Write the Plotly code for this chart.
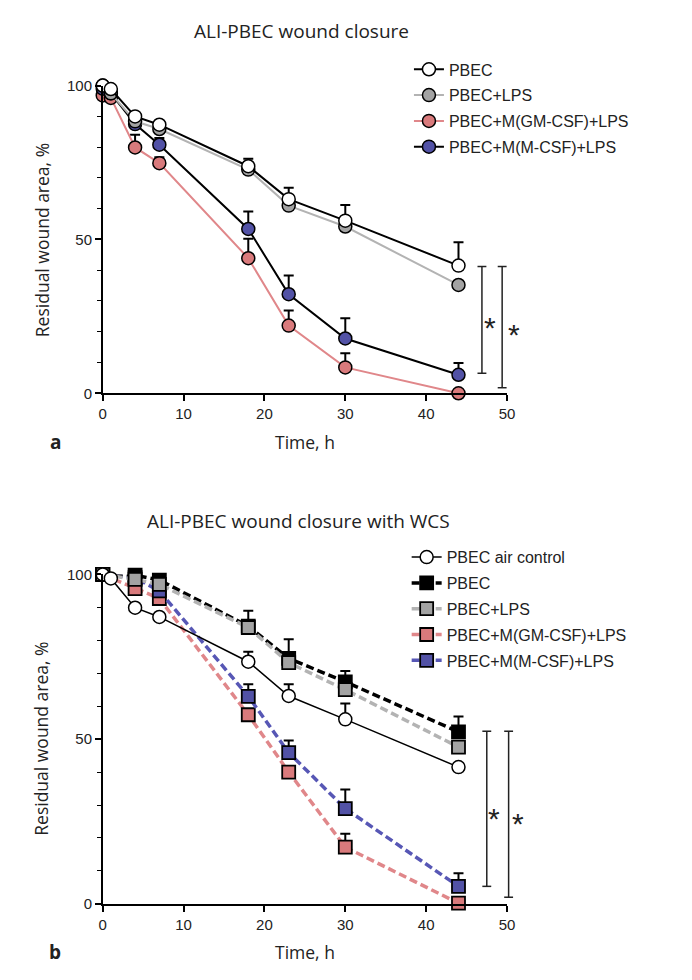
import plotly.graph_objects as go

# ---------------- data ----------------
time_a = [0, 1, 4, 7, 18, 23, 30, 44]
a_pbec = [100, 98.9, 90.0, 87.3, 73.8, 63.1, 56.1, 41.5]
a_pbec_err = [0, 0, 0, 0, 2.4, 3.7, 5.1, 7.6]
a_lps = [100, 97.5, 88.4, 85.9, 72.7, 61.0, 54.2, 35.2]
a_lps_err = [0, 0, 0, 0, 0, 0, 0, 0]
a_gm = [96.8, 96.0, 79.9, 74.8, 43.9, 22.0, 8.4, 0.0]
a_gm_err = [0, 0, 4.1, 1.9, 6.3, 4.9, 4.6, 0]
a_m = [99.0, 97.5, 87.5, 80.8, 53.4, 32.2, 17.8, 6.0]
a_m_err = [0, 0, 1.0, 2.2, 5.7, 6.1, 6.6, 3.8]

time_b = [0, 1, 4, 7, 18, 23, 30, 44]
b_air = [100, 98.8, 89.9, 87.1, 73.5, 63.1, 56.0, 41.5]
b_air_err = [0, 0, 0, 0, 3.0, 3.6, 4.8, 0]
time_b2 = [0, 4, 7, 18, 23, 30, 44]
b_pbec = [100, 99.8, 98.3, 84.3, 74.5, 67.4, 52.2]
b_pbec_err = [0, 0, 0, 4.7, 5.8, 3.3, 4.7]
b_lps = [100, 98.5, 97.0, 83.9, 73.2, 65.0, 47.6]
b_lps_err = [0, 0, 0, 0, 0, 0, 0]
b_gm = [100, 95.7, 92.7, 57.4, 40.0, 17.2, 0.2]
b_gm_err = [0, 0, 0, 0, 0, 4.1, 0]
b_m = [100, 99.0, 95.0, 63.0, 45.9, 28.9, 5.3]
b_m_err = [0, 0, 0, 3.7, 3.7, 5.8, 4.0]

legend_a = ["PBEC", "PBEC+LPS", "PBEC+M(GM-CSF)+LPS", "PBEC+M(M-CSF)+LPS"]
legend_b = ["PBEC air control", "PBEC", "PBEC+LPS", "PBEC+M(GM-CSF)+LPS", "PBEC+M(M-CSF)+LPS"]

# significance brackets: (x position, y bottom, y top) in data units
sig_a = [(46.9, 6.5, 41.2), (49.4, 1.8, 41.2)]
sig_b = [(47.5, 5.3, 52.4), (50.2, 2.0, 52.4)]

# ---------------- style ----------------
PAGE_W, PAGE_H = 692, 980
BODY = 8  # default page margin around the figure
W, H = PAGE_W - 2 * BODY, PAGE_H - 2 * BODY
PINK = "#d97a7c"
PINK_L = "#e0878a"
BLUE = "#5252a6"
BLUE_L = "#5757b5"
GRAY = "#a3a3a3"
GRAY_L = "#b3b3b3"
TXT = "Open Sans"
NUM = "Liberation Sans"

# calibration of the rendered page (screen = k * layout + c)
KX, CX = 0.9877, 2.55
KY, CY = 0.9813, 9.6


def px_x(q):
    p = (q - CX) / KX
    return (p - BODY) / W


def px_y(q):
    p = (q - CY) / KY
    return 1 - (p - BODY) / H


XDOM = [px_x(101.7), px_x(508.2)]
YDOM_A = [px_y(393.3), px_y(86.0)]
YDOM_B = [px_y(903.3), px_y(574.3)]
XR = [0, 50]
YR = [0, 100]


def dx(v):
    return XDOM[0] + (v - XR[0]) / (XR[1] - XR[0]) * (XDOM[1] - XDOM[0])


def dy(v, dom):
    return dom[0] + (v - YR[0]) / (YR[1] - YR[0]) * (dom[1] - dom[0])


fig = go.Figure()


def err(arr, thick=2):
    return dict(type="data", symmetric=False, array=arr, arrayminus=[0] * len(arr),
                color="black", thickness=thick, width=5, visible=True)


def add(x, y, e, name, rank, xa, ya, leg, line, marker):
    fig.add_trace(go.Scatter(
        x=x, y=y, name=name, mode="lines+markers", legendrank=rank,
        legendgroup=leg + name, xaxis=xa, yaxis=ya, legend=leg,
        line=line, marker=marker, error_y=err(e), cliponaxis=False))


# panel a
add(time_a, a_gm, a_gm_err, legend_a[2], 3, "x", "y", "legend",
    dict(color=PINK_L, width=2), dict(symbol="circle", size=13, color=PINK, line=dict(color="black", width=1.5)))
add(time_a, a_m, a_m_err, legend_a[3], 4, "x", "y", "legend",
    dict(color="black", width=2), dict(symbol="circle", size=13, color=BLUE, line=dict(color="black", width=1.5)))
add(time_a, a_lps, a_lps_err, legend_a[1], 2, "x", "y", "legend",
    dict(color=GRAY_L, width=2), dict(symbol="circle", size=13, color=GRAY, line=dict(color="black", width=1.5)))
add(time_a, a_pbec, a_pbec_err, legend_a[0], 1, "x", "y", "legend",
    dict(color="black", width=2), dict(symbol="circle", size=13, color="white", line=dict(color="black", width=1.5)))

# panel b
DASH = "8px,4px"
add(time_b2, b_gm, b_gm_err, legend_b[3], 4, "x2", "y2", "legend2",
    dict(color=PINK_L, width=3.5, dash=DASH), dict(symbol="square", size=13, color=PINK, line=dict(color="black", width=1.8)))
add(time_b2, b_m, b_m_err, legend_b[4], 5, "x2", "y2", "legend2",
    dict(color=BLUE_L, width=3.5, dash=DASH), dict(symbol="square", size=13, color=BLUE, line=dict(color="black", width=1.8)))
add(time_b2, b_pbec, b_pbec_err, legend_b[1], 2, "x2", "y2", "legend2",
    dict(color="black", width=3.5, dash=DASH), dict(symbol="square", size=13, color="black", line=dict(color="black", width=1.8)))
add(time_b2, b_lps, b_lps_err, legend_b[2], 3, "x2", "y2", "legend2",
    dict(color=GRAY_L, width=3.5, dash=DASH), dict(symbol="square", size=13, color=GRAY, line=dict(color="black", width=1.8)))
add(time_b, b_air, b_air_err, legend_b[0], 1, "x2", "y2", "legend2",
    dict(color="black", width=1.5), dict(symbol="circle", size=13, color="white", line=dict(color="black", width=1.5)))

# axes
ax_common = dict(showgrid=False, zeroline=False, showline=True, linecolor="black", linewidth=1.5,
                 ticks="outside", ticklen=6, tickwidth=1.5, tickcolor="black",
                 tickfont=dict(family=NUM, size=15, color="#222"))
minor = dict(tickvals=[10, 20, 30, 40, 60, 70, 80, 90], ticks="outside", ticklen=4,
             tickwidth=1.2, tickcolor="black")
fig.update_layout(
    xaxis=dict(domain=XDOM, anchor="y", range=XR, tickvals=[0, 10, 20, 30, 40, 50], **ax_common),
    yaxis=dict(domain=YDOM_A, anchor="x", range=YR, tickvals=[0, 50, 100], minor=minor, **ax_common),
    xaxis2=dict(domain=XDOM, anchor="y2", range=XR, tickvals=[0, 10, 20, 30, 40, 50], **ax_common),
    yaxis2=dict(domain=YDOM_B, anchor="x2", range=YR, tickvals=[0, 50, 100], minor=minor, **ax_common),
)

leg_common = dict(font=dict(family=NUM, size=16, color="#222"), bgcolor="rgba(0,0,0,0)",
                  tracegroupgap=2, itemwidth=30, xanchor="left", yanchor="top")
fig.update_layout(
    legend=dict(x=px_x(409.6), y=px_y(52.8), **leg_common),
    legend2=dict(x=px_x(407.3), y=px_y(540.1), **leg_common),
)


def bracket(xv, y0, y1, dom):
    cap = 0.55
    segs = [(xv, y0, xv, y1), (xv - cap, y0, xv + cap, y0), (xv - cap, y1, xv + cap, y1)]
    for (a0, b0, a1, b1) in segs:
        fig.add_shape(type="line", xref="paper", yref="paper",
                      x0=dx(a0), y0=dy(b0, dom), x1=dx(a1), y1=dy(b1, dom),
                      line=dict(color="#222", width=1.5))


for (xv, y0, y1) in sig_a:
    bracket(xv, y0, y1, YDOM_A)
for (xv, y0, y1) in sig_b:
    bracket(xv, y0, y1, YDOM_B)


def star(xv, yv, dom):
    fig.add_annotation(text="*", x=dx(xv), y=dy(yv, dom), xref="paper", yref="paper",
                       showarrow=False, xanchor="center", yanchor="middle",
                       font=dict(family=NUM, size=30, color="#222"))


star(sig_a[0][0] + 1.0, 21.5, YDOM_A)
star(sig_a[1][0] + 1.5, 19.0, YDOM_A)
star(sig_b[0][0] + 0.9, 26.0, YDOM_B)
star(sig_b[1][0] + 1.2, 24.5, YDOM_B)


def ptext(t, x, y, size, bold=False, angle=0):
    fig.add_annotation(text=("<b>%s</b>" % t) if bold else t, x=px_x(x), y=px_y(y), xref="paper", yref="paper",
                       showarrow=False, textangle=angle, xanchor="center", yanchor="middle",
                       font=dict(family=TXT, size=size, color="#222"))


ptext("ALI-PBEC wound closure", 302, 31, 19)
ptext("ALI-PBEC wound closure with WCS", 299, 521, 19)
ptext("Residual wound area, %", 40, 240, 17.5, angle=-90)
ptext("Residual wound area, %", 40, 738, 17.5, angle=-90)
ptext("Time, h", 305, 442, 17.5)
ptext("Time, h", 305, 951, 17.5)
ptext("a", 54, 442, 19, bold=True)
ptext("b", 54, 951, 19, bold=True)

fig.update_layout(width=W, height=H, margin=dict(l=0, r=0, t=0, b=0),
                  plot_bgcolor="white", paper_bgcolor="white", showlegend=True)

fig.write_html("out.html", config={"displayModeBar": False})
